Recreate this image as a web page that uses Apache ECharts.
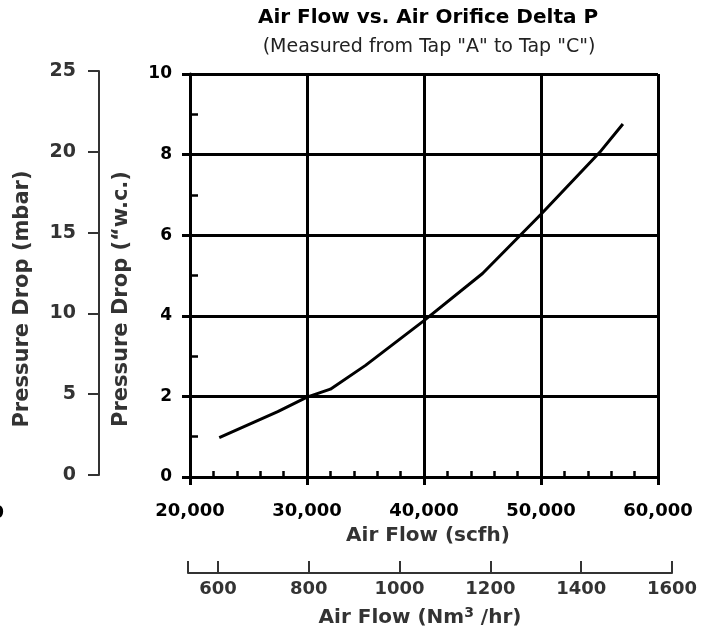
<!DOCTYPE html>
<html>
<head>
<meta charset="utf-8">
<script src="https://cdn.jsdelivr.net/npm/echarts@6/dist/echarts.min.js"></script>
<style>
    html, body { margin: 0; padding: 0; background: #fff; }
    #grafica { width: 716px; height: 631px; }
</style>
</head>
<body>
<div id="grafica"></div>
<script>
// datos
const flujo_scfh = [22500, 25000, 27500, 30000, 32000, 35000, 40000, 45000, 50000, 55000, 57000];
const caida_wc = [0.98, 1.3, 1.62, 1.98, 2.18, 2.77, 3.88, 5.05, 6.52, 8.05, 8.76];

// etiquetas de los ejes
const ticks_scfh = [20000, 30000, 40000, 50000, 60000];
const ticks_wc = [0, 2, 4, 6, 8, 10];
const ticks_mbar = [0, 5, 10, 15, 20, 25];
const ticks_nm3 = [600, 800, 1000, 1200, 1400, 1600];
const nm3_min = 534; // 20,000 scfh en Nm3/hr

const fuente = 'DejaVu Sans';

let grafica = echarts.init(document.querySelector('#grafica'));

let puntos = flujo_scfh.map((x, i) => [x, caida_wc[i]]);

let option = {
    animation: false,
    backgroundColor: '#fff',
    textStyle: { fontFamily: fuente },
    grid: [
        { left: 190, top: 74, width: 468, height: 403 },   // grafica principal
        { left: 99, top: 71, width: 1, height: 404 },      // eje mbar
        { left: 188, right: 44, top: 520, height: 53 }     // eje Nm3/hr
    ],
    xAxis: [
        {
            type: 'value', gridIndex: 0, position: 'bottom',
            min: ticks_scfh[0], max: ticks_scfh[ticks_scfh.length - 1], interval: 10000,
            axisLine: { lineStyle: { color: '#000', width: 3 } },
            axisTick: { length: 8, lineStyle: { color: '#000', width: 3 } },
            axisLabel: {
                margin: 25, color: '#000', fontSize: 18, fontWeight: 'bold', fontFamily: fuente,
                formatter: (v) => v.toLocaleString('en-US')
            },
            splitLine: { show: true, lineStyle: { color: '#000', width: 3 } }
        },
        {
            // marcas menores hacia adentro
            type: 'value', gridIndex: 0, position: 'bottom',
            min: ticks_scfh[0], max: ticks_scfh[ticks_scfh.length - 1], interval: 2000,
            axisLine: { show: false },
            axisTick: { inside: true, length: 6, lineStyle: { color: '#000', width: 2.5 } },
            axisLabel: { show: false },
            splitLine: { show: false }
        },
        { type: 'value', gridIndex: 1, show: false },
        {
            type: 'value', gridIndex: 2, position: 'bottom',
            min: nm3_min, max: ticks_nm3[ticks_nm3.length - 1],
            axisLine: { lineStyle: { color: '#333', width: 2 } },
            axisTick: {
                inside: true, length: 12, lineStyle: { color: '#333', width: 2 },
                customValues: [nm3_min].concat(ticks_nm3)
            },
            axisLabel: {
                margin: 7, color: '#333', fontSize: 18, fontWeight: 'bold', fontFamily: fuente,
                customValues: ticks_nm3,
                formatter: (v) => String(v)
            },
            splitLine: { show: false }
        }
    ],
    yAxis: [
        {
            type: 'value', gridIndex: 0, position: 'left',
            min: ticks_wc[0], max: ticks_wc[ticks_wc.length - 1], interval: 2,
            axisLine: { lineStyle: { color: '#000', width: 3 } },
            axisTick: { length: 8, lineStyle: { color: '#000', width: 3 } },
            axisLabel: { margin: 18, color: '#000', fontSize: 17, fontWeight: 'bold', fontFamily: fuente },
            splitLine: { show: true, lineStyle: { color: '#000', width: 3 } }
        },
        {
            type: 'value', gridIndex: 0, position: 'left',
            min: ticks_wc[0], max: ticks_wc[ticks_wc.length - 1], interval: 1,
            axisLine: { show: false },
            axisTick: { inside: true, length: 8, lineStyle: { color: '#000', width: 2.5 } },
            axisLabel: { show: false },
            splitLine: { show: false }
        },
        {
            type: 'value', gridIndex: 1, position: 'left',
            min: ticks_mbar[0], max: ticks_mbar[ticks_mbar.length - 1], interval: 5,
            axisLine: { lineStyle: { color: '#333', width: 2 } },
            axisTick: { length: 11, lineStyle: { color: '#333', width: 2 } },
            axisLabel: { margin: 23, color: '#333', fontSize: 19, fontWeight: 'bold', fontFamily: fuente },
            splitLine: { show: false }
        },
        { type: 'value', gridIndex: 2, show: false }
    ],
    series: [
        {
            type: 'line',
            xAxisIndex: 0,
            yAxisIndex: 0,
            data: puntos,
            showSymbol: false,
            lineStyle: { color: '#000', width: 3 },
            z: 5
        }
    ],
    graphic: [
        {
            type: 'text', x: 428, y: 18,
            style: { text: 'Air Flow vs. Air Orifice Delta P', fill: '#000', font: 'bold 20px ' + fuente, align: 'center', verticalAlign: 'middle' }
        },
        {
            type: 'text', x: 429, y: 47,
            style: { text: '(Measured from Tap "A" to Tap "C")', fill: '#222', font: '19px ' + fuente, align: 'center', verticalAlign: 'middle' }
        },
        {
            type: 'text', x: 23, y: 299, rotation: Math.PI / 2,
            style: { text: 'Pressure Drop (mbar)', fill: '#333', font: 'bold 21px ' + fuente, align: 'center', verticalAlign: 'middle' }
        },
        {
            type: 'text', x: 122, y: 299, rotation: Math.PI / 2,
            style: { text: 'Pressure Drop (\u201Cw.c.)', fill: '#333', font: 'bold 21px ' + fuente, align: 'center', verticalAlign: 'middle' }
        },
        {
            type: 'text', x: 428, y: 536,
            style: { text: 'Air Flow (scfh)', fill: '#333', font: 'bold 20px ' + fuente, align: 'center', verticalAlign: 'middle' }
        },
        {
            type: 'text', x: 420, y: 618,
            style: {
                text: 'Air Flow (Nm{sup|3} /hr)', fill: '#333', font: 'bold 20px ' + fuente,
                align: 'center', verticalAlign: 'middle',
                rich: {
                    sup: { fontSize: 14, fontWeight: 'bold', fontFamily: fuente, fill: '#333', verticalAlign: 'top', padding: [0, 0, 10, 0] }
                }
            }
        },
        {
            // resto de una etiqueta recortada en el borde
            type: 'text', x: 4, y: 513,
            style: { text: '0', fill: '#000', font: 'bold 18px ' + fuente, align: 'right', verticalAlign: 'middle' }
        }
    ]
};

grafica.setOption(option);
</script>
</body>
</html>
